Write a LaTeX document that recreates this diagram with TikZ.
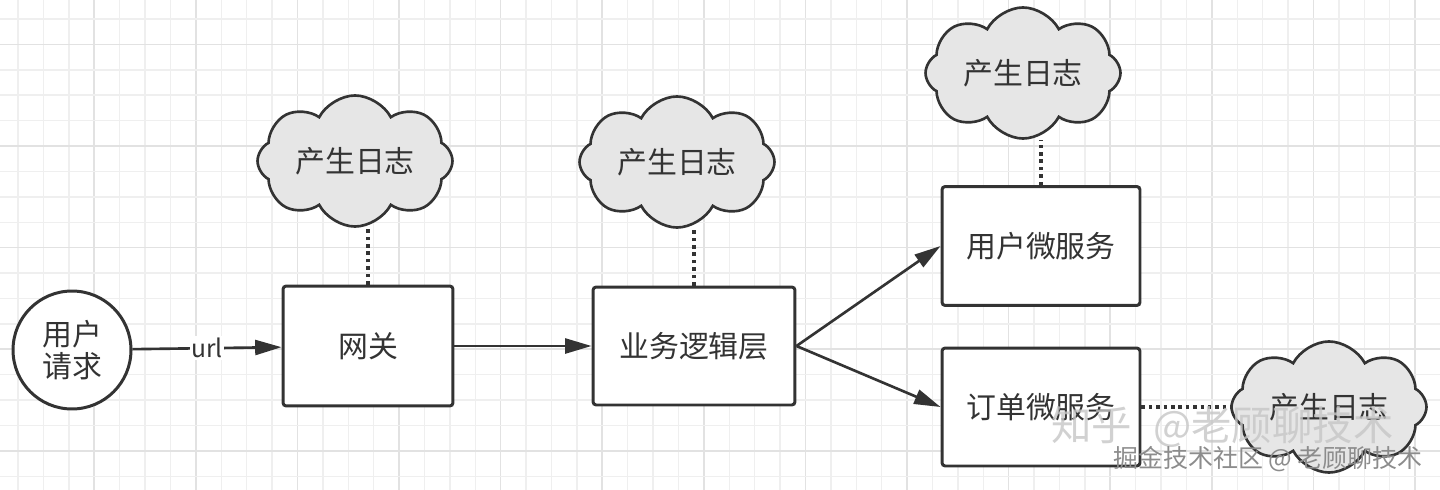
\documentclass[tikz,border=0pt]{standalone}
\usepackage{fontspec}
\setmainfont{Noto Sans CJK SC}
\usetikzlibrary{positioning,arrows.meta,shapes.symbols}
\definecolor{inkgray}{HTML}{333333}
\definecolor{cloudgray}{HTML}{E6E6E6}
\definecolor{gridminor}{HTML}{EFEFEF}
\definecolor{gridmajor}{HTML}{E2E2E2}
\tikzset{
  flowarrow/.style={-{Triangle[length=15pt,width=8.5pt]}, line width=1.5pt, draw=inkgray},
  logline/.style={line width=2pt, draw=inkgray, dash pattern=on 2pt off 2.2pt},
  svcbox/.style={draw=inkgray, line width=1.7pt, rounded corners=1.8pt, fill=white, align=center, inner sep=0pt},
  startnode/.style={draw=inkgray, circle, line width=1.7pt, fill=white, minimum size=2.36cm, align=center, inner sep=0pt},
  logcloud/.style={draw=inkgray, cloud, cloud puffs=8, cloud puff arc=125, aspect=1.7, line width=1.5pt, fill=cloudgray, minimum width=3.9cm, minimum height=2.3cm, inner sep=0pt}
}
\begin{document}
\begin{tikzpicture}[x=0.02cm, y=-0.02cm, every node/.style={font=\fontsize{17pt}{21pt}\selectfont, text=inkgray}]
  \useasboundingbox[fill=white] (0,0) rectangle (1440,490);
  % grid
  \foreach \k in {0,...,56} {
    \pgfmathsetmacro{\gx}{18+25.4*\k}
    \pgfmathtruncatemacro{\gm}{mod(\k,4)}
    \ifnum\gm=3 \draw[gridmajor, line width=0.9pt] (\gx,0) -- (\gx,490);
    \else \draw[gridminor, line width=0.8pt] (\gx,0) -- (\gx,490); \fi
  }
  \foreach \k in {0,...,19} {
    \pgfmathsetmacro{\gy}{19+25.4*\k}
    \pgfmathtruncatemacro{\gm}{mod(\k,4)}
    \ifnum\gm=1 \draw[gridmajor, line width=0.9pt] (0,\gy) -- (1440,\gy);
    \else \draw[gridminor, line width=0.8pt] (0,\gy) -- (1440,\gy); \fi
  }
  % nodes
  \node[startnode] (req) at (72,350) {用户\\[-3pt]请求};
  \node[svcbox, minimum width=3.4cm, minimum height=2.4cm] (gw) at (368,346) {网关};
  \node[svcbox, minimum width=4.04cm, minimum height=2.36cm] (biz) at (694,346) {业务逻辑层};
  \node[svcbox, minimum width=3.96cm, minimum height=2.38cm] (usr) at (1041,246) {用户微服务};
  \node[svcbox, minimum width=3.96cm, minimum height=2.36cm] (ord) at (1041,407) {订单微服务};
  \node[logcloud] (log1) at (355,161) {产生日志};
  \node[logcloud] (log2) at (677,162) {产生日志};
  \node[logcloud] (log3) at (1023,73) {产生日志};
  \node[logcloud] (log4) at (1329,407) {产生日志};
  % connectors
  \draw[flowarrow] (req) -- node[fill=white, inner sep=1pt, font=\fontsize{14pt}{16pt}\selectfont] {url} (gw);
  \draw[flowarrow] (gw) -- (biz);
  \draw[flowarrow] (biz.east) -- (usr.west);
  \draw[flowarrow] (biz.east) -- (ord.west);
  \draw[logline] (gw.north) -- (gw.north |- log1.south);
  \draw[logline] (biz.north) -- (biz.north |- log2.south);
  \draw[logline] (usr.north) -- (usr.north |- log3.south);
  \draw[logline] (ord.east) -- (log4.west);
  % watermarks
  \node[anchor=west, inner sep=0pt, text=gray!45, opacity=0.8, font=\fontsize{23pt}{26pt}\selectfont] (wm1) at (1051,427) {知乎\hspace{12pt}@老顾聊技术};
  \node[anchor=west, inner sep=0pt, text=gray!90, font=\fontsize{14.2pt}{16pt}\selectfont] (wm2) at (1113,459) {掘金技术社区 @ 老顾聊技术};
\end{tikzpicture}
\end{document}
